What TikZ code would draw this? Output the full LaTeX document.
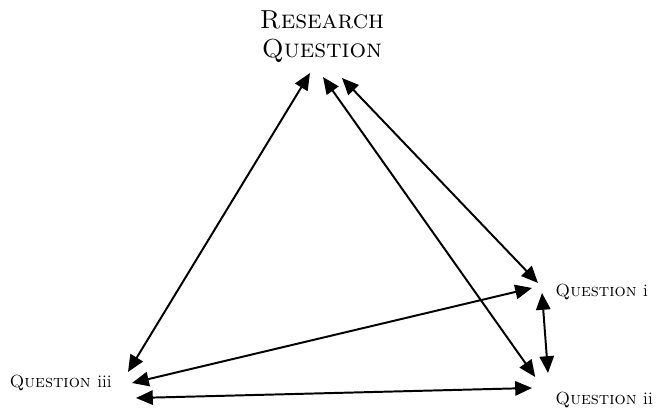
\documentclass[tikz,border=0pt]{standalone}
\usepackage{tikz}
\usetikzlibrary{arrows.meta,calc,positioning}

\begin{document}
\begin{tikzpicture}[
  link/.style={{Triangle[length=0.42cm,width=0.36cm]}-{Triangle[length=0.42cm,width=0.36cm]}, line width=1.4pt},
  qlabel/.style={inner sep=0pt, font=\fontsize{12.5}{14}\selectfont\scshape}
]
\useasboundingbox (0,0) rectangle (16.475,10.225);

% Main question
\node[inner sep=0pt, align=center, anchor=south, font=\fontsize{18.5}{20.5}\selectfont\scshape] (rq) at (8.05,8.65) {Research\\Question};

% Sub questions
\node[qlabel, anchor=base west] (q1) at (13.88,2.8) {Question \textup{i}};
\node[qlabel, anchor=base west] (q2) at (13.88,0.1) {Question \textup{ii}};
\node[qlabel, anchor=base east] (q3) at (2.8,0.525) {Question \textup{iii}};

% Links to the main question
\draw[link] ($(rq.south)+(-0.3,-0.25)$) -- ($(q3.base east)+(0.4,0.4)$);
\draw[link] ($(rq.south)+(0.025,-0.35)$) -- ($(q2.base west)+(-0.5,0.7)$);
\draw[link] ($(rq.south)+(0.5,-0.375)$) -- ($(q1.base west)+(-0.43,0.35)$);

% Links between sub questions
\draw[link] ($(q3.base east)+(0.5,0.125)$) -- ($(q1.base west)+(-0.58,0.225)$);
\draw[link] ($(q3.base east)+(0.6,-0.25)$) -- ($(q2.base west)+(-0.58,0.425)$);
\draw[link] ($(q1.base west)+(-0.33,0.1)$) -- ($(q2.base west)+(-0.18,0.8)$);
\end{tikzpicture}
\end{document}
